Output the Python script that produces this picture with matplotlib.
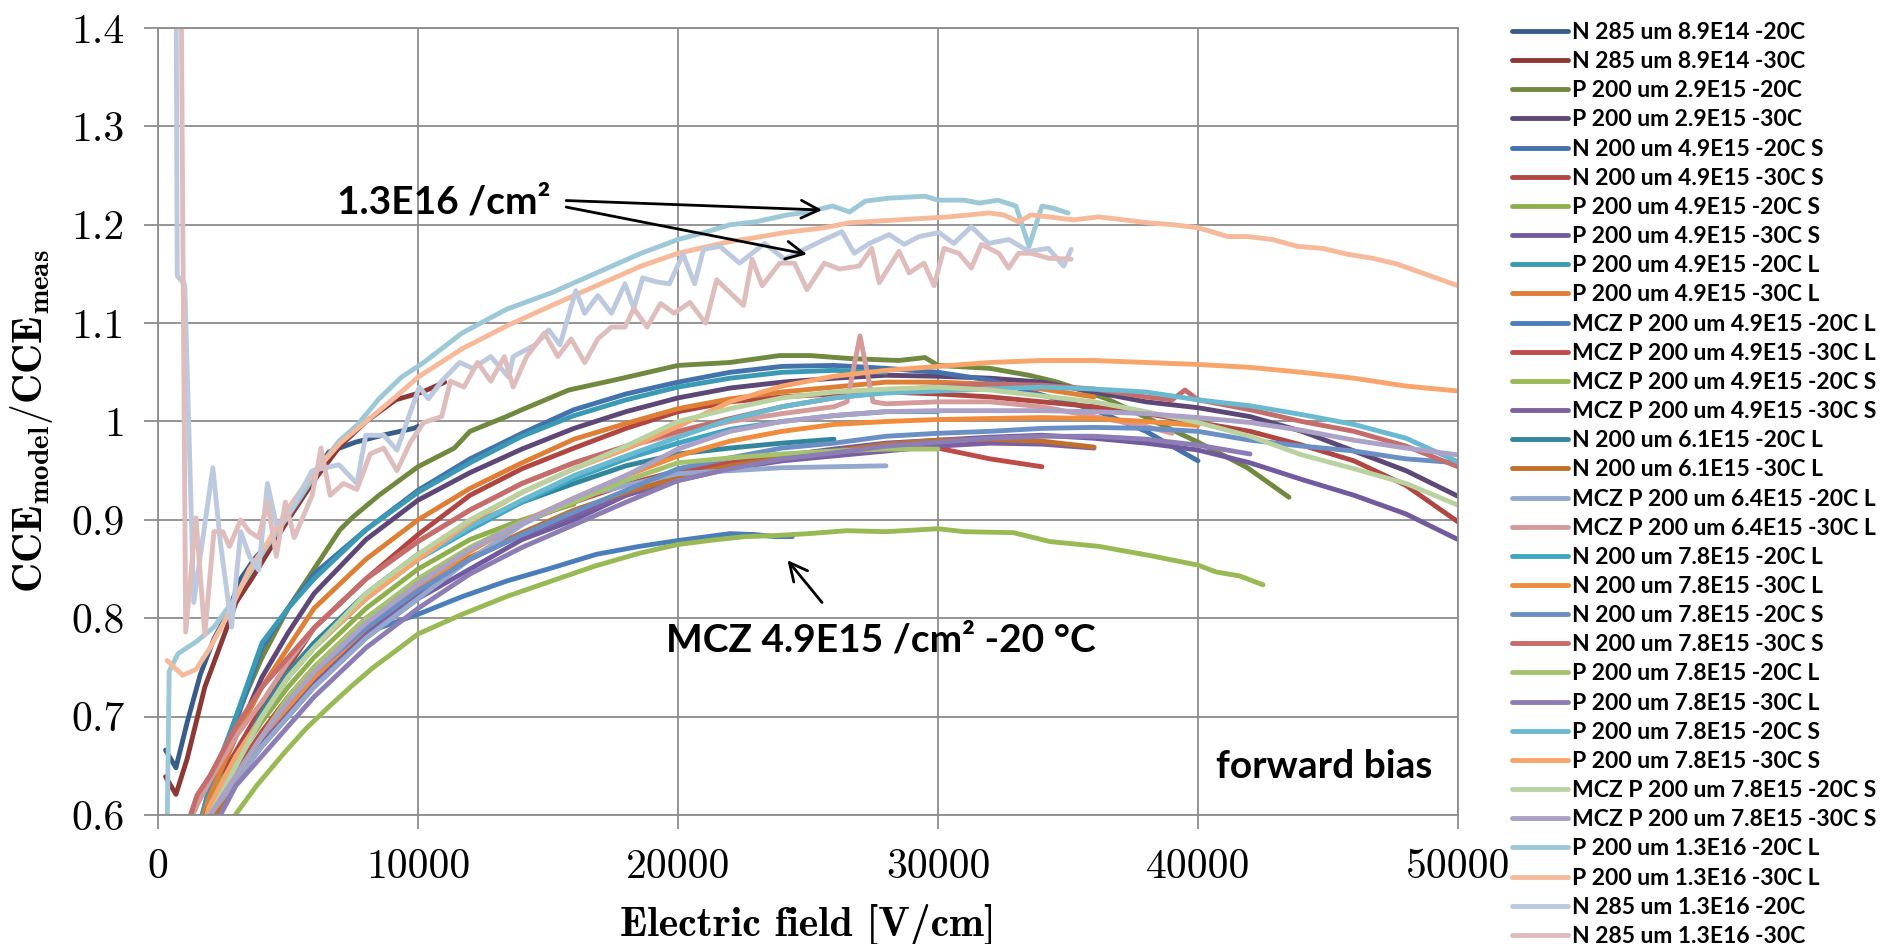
import matplotlib.pyplot as plt

plt.rcParams['mathtext.fontset'] = 'cm'

# legend labels and excel-like colours, in plotting order
labels = ['N 285 um 8.9E14 -20C', 'N 285 um 8.9E14 -30C',
          'P 200 um 2.9E15 -20C', 'P 200 um 2.9E15 -30C',
          'N 200 um 4.9E15 -20C S', 'N 200 um 4.9E15 -30C S',
          'P 200 um 4.9E15 -20C S', 'P 200 um 4.9E15 -30C S',
          'P 200 um 4.9E15 -20C L', 'P 200 um 4.9E15 -30C L',
          'MCZ P 200 um 4.9E15 -20C L', 'MCZ P 200 um 4.9E15 -30C L',
          'MCZ P 200 um 4.9E15 -20C S', 'MCZ P 200 um 4.9E15 -30C S',
          'N 200 um 6.1E15 -20C L', 'N 200 um 6.1E15 -30C L',
          'MCZ P 200 um 6.4E15 -20C L', 'MCZ P 200 um 6.4E15 -30C L',
          'N 200 um 7.8E15 -20C L', 'N 200 um 7.8E15 -30C L',
          'N 200 um 7.8E15 -20C S', 'N 200 um 7.8E15 -30C S',
          'P 200 um 7.8E15 -20C L', 'P 200 um 7.8E15 -30C L',
          'P 200 um 7.8E15 -20C S', 'P 200 um 7.8E15 -30C S',
          'MCZ P 200 um 7.8E15 -20C S', 'MCZ P 200 um 7.8E15 -30C S',
          'P 200 um 1.3E16 -20C L', 'P 200 um 1.3E16 -30C L',
          'N 285 um 1.3E16 -20C', 'N 285 um 1.3E16 -30C']

colors = ['#385D8A', '#8C3836', '#71893F', '#5C4776', '#4372AC', '#B04541',
          '#8DB04C', '#725A9E', '#3A9AB3', '#DF7F35', '#4A7EBB', '#BE4B48',
          '#98B954', '#7D60A0', '#31859C', '#C0702B', '#95A9CE', '#D59B9A',
          '#3FA6C2', '#F08C3C', '#6A8FC5', '#C66C6A', '#A5C26D', '#8C7DB4',
          '#69BAD0', '#F8A46A', '#BAD2A0', '#ACA1C6', '#9DC8D8', '#F6BA9A',
          '#BCC9DF', '#DFBDBD']

# common field grid (V/cm) used by the smoother curves
field_grid = [1500, 2000, 3000, 4000, 5000, 6000, 8000, 10000, 12000, 14000,
              16000, 18000, 20000, 22000, 24000, 26000, 28000, 30000, 32000,
              34000, 36000, 38000, 40000, 42000, 44000, 46000, 48000, 50000]

s00_x = [290, 690, 1120, 1630, 2150, 2660, 3180, 3700, 4200, 4900, 5500, 6570, 7600, 8630, 9830, 10000]
s00_y = [0.666, 0.648, 0.694, 0.743, 0.779, 0.804, 0.84, 0.86, 0.875, 0.9, 0.925, 0.969, 0.979, 0.986, 0.993, 0.995]

s01_x = [290, 690, 1120, 1800, 2490, 3000, 3600, 4300, 5000, 6000, 7000, 8000, 9140, 10170, 11030]
s01_y = [0.639, 0.621, 0.657, 0.73, 0.779, 0.816, 0.84, 0.87, 0.9, 0.94, 0.975, 1.0, 1.022, 1.03, 1.04]

s02_x = [1700, 2200, 2600, 3000, 3500, 4000, 4500, 5000, 5500, 6000, 6500, 7000, 7500, 8500, 10000,
         11400, 12000, 13400, 14000, 15800, 17700, 20000, 22000, 23900, 25100, 26600, 28500, 29500,
         30000, 32000, 33500, 34600, 36500, 38100, 40000, 41900, 43500]
s02_y = [0.58, 0.63, 0.665, 0.7, 0.73, 0.76, 0.785, 0.81, 0.83, 0.85, 0.87, 0.89, 0.903, 0.925, 0.954,
         0.973, 0.99, 1.005, 1.012, 1.032, 1.043, 1.057, 1.06, 1.067, 1.067, 1.064, 1.062, 1.065,
         1.057, 1.054, 1.047, 1.04, 1.023, 1.003, 0.979, 0.953, 0.923]

s03_y = [0.58, 0.62, 0.68, 0.74, 0.785, 0.825, 0.88, 0.92, 0.948, 0.972, 0.993, 1.01, 1.024, 1.034,
         1.04, 1.044, 1.047, 1.046, 1.044, 1.04, 1.03, 1.02, 1.014, 1.005, 0.99, 0.97, 0.95, 0.924]
s04_y = [0.58, 0.63, 0.695, 0.77, 0.81, 0.845, 0.89, 0.93, 0.962, 0.988, 1.012, 1.028, 1.04, 1.05,
         1.056, 1.057, 1.054, 1.05, 1.042, 1.027, 1.012, 0.99, 0.96]
s05_y = [0.58, 0.62, 0.665, 0.71, 0.75, 0.79, 0.84, 0.885, 0.925, 0.952, 0.973, 0.993, 1.01, 1.02,
         1.025, 1.028, 1.03, 1.028, 1.025, 1.02, 1.015, 1.008, 0.999, 0.99, 0.976, 0.96, 0.935, 0.898]
s06_y = [0.58, 0.62, 0.655, 0.695, 0.73, 0.76, 0.81, 0.85, 0.88, 0.9, 0.916]
s07_y = [0.57, 0.6, 0.635, 0.67, 0.7, 0.73, 0.78, 0.82, 0.85, 0.88, 0.9, 0.925, 0.945, 0.955,
         0.965, 0.972, 0.978, 0.981, 0.984, 0.986, 0.983, 0.978, 0.971, 0.958, 0.941, 0.925, 0.906, 0.88]
s08_y = [0.58, 0.63, 0.7, 0.775, 0.81, 0.84, 0.89, 0.928, 0.958, 0.985, 1.006, 1.022, 1.035, 1.044,
         1.05, 1.052, 1.05]
s09_y = [0.58, 0.62, 0.68, 0.73, 0.77, 0.81, 0.86, 0.9, 0.932, 0.958, 0.982, 0.998, 1.013, 1.023,
         1.03, 1.035, 1.04, 1.04, 1.038, 1.033, 1.025]

s10_x = [1900, 2300, 3000, 4000, 4850, 5500, 6570, 7500, 8280, 10000, 11700, 13430, 15000, 16860,
         18500, 20000, 22000, 23000, 23700, 24400]
s10_y = [0.58, 0.6, 0.64, 0.68, 0.703, 0.725, 0.754, 0.772, 0.788, 0.804, 0.822, 0.838, 0.85, 0.865,
         0.873, 0.879, 0.886, 0.885, 0.883, 0.883]

s11_y = [0.58, 0.61, 0.645, 0.685, 0.72, 0.75, 0.8, 0.838, 0.87, 0.897, 0.918, 0.936, 0.95, 0.958,
         0.965, 0.969, 0.972, 0.973, 0.962, 0.954]

s12_x = [2500, 2970, 3800, 4850, 5700, 6570, 7400, 8280, 9100, 10000, 11700, 13400, 15150, 16800,
         18500, 20000, 21500, 22600, 23700, 25000, 26500, 28000, 30000, 31000, 32900, 34300, 36200,
         38100, 40000, 40700, 41600, 42500]
s12_y = [0.58, 0.6, 0.63, 0.663, 0.688, 0.71, 0.73, 0.75, 0.766, 0.784, 0.804, 0.822, 0.838, 0.853,
         0.866, 0.875, 0.88, 0.883, 0.884, 0.886, 0.889, 0.888, 0.891, 0.888, 0.887, 0.878, 0.873,
         0.864, 0.854, 0.847, 0.843, 0.834]

s13_y = [0.57, 0.6, 0.64, 0.675, 0.705, 0.735, 0.785, 0.825, 0.86, 0.885, 0.905, 0.925, 0.94, 0.952,
         0.96, 0.965, 0.97, 0.975, 0.978, 0.977, 0.973]
s14_y = [0.56, 0.585, 0.655, 0.705, 0.745, 0.775, 0.825, 0.865, 0.895, 0.918, 0.937, 0.955, 0.967,
         0.973, 0.978, 0.982]
s15_y = [0.56, 0.59, 0.64, 0.68, 0.71, 0.74, 0.79, 0.83, 0.862, 0.887, 0.91, 0.928, 0.943, 0.955,
         0.963, 0.97, 0.977, 0.981, 0.982, 0.98, 0.974]
s16_y = [0.57, 0.6, 0.635, 0.67, 0.7, 0.73, 0.78, 0.82, 0.86, 0.895, 0.922, 0.935, 0.947, 0.95,
         0.953, 0.954, 0.955]

s17_x = [1000, 1500, 2000, 3000, 4000, 5000, 6000, 8000, 10000, 12000, 14000, 16000, 18000, 20000,
         22000, 24000, 26000, 26500, 27000, 27500, 28000, 30000, 32000, 34000, 36000, 38000, 39000]
s17_y = [0.58, 0.61, 0.635, 0.68, 0.715, 0.755, 0.79, 0.84, 0.878, 0.91, 0.937, 0.958, 0.974, 0.988,
         1.0, 1.008, 1.015, 1.02, 1.087, 1.02, 1.018, 1.02, 1.02, 1.015, 1.005, 0.995, 0.988]

s18_y = [0.57, 0.61, 0.66, 0.7, 0.74, 0.77, 0.82, 0.86, 0.89, 0.918, 0.942, 0.962, 0.978, 0.992,
         1.0, 1.006, 1.01, 1.01]
s19_y = [0.57, 0.6, 0.64, 0.68, 0.71, 0.74, 0.79, 0.83, 0.868, 0.898, 0.922, 0.945, 0.965, 0.98,
         0.99, 0.997, 1.0, 1.002, 1.003, 1.004, 1.003, 1.0, 0.996]
s20_y = [0.57, 0.6, 0.64, 0.68, 0.715, 0.745, 0.79, 0.828, 0.86, 0.885, 0.908, 0.93, 0.952, 0.963,
         0.973, 0.978, 0.985, 0.988, 0.99, 0.993, 0.994, 0.993, 0.99, 0.981, 0.975, 0.97, 0.962, 0.958]

s21_x = [1000, 1500, 2000, 3000, 4000, 5000, 6000, 8000, 10000, 12000, 14000, 16000, 18000, 20000,
         22000, 24000, 26000, 28000, 30000, 32000, 34000, 36000, 38000, 39000, 39500, 40000, 42000,
         44000, 46000, 48000, 50000]
s21_y = [0.58, 0.62, 0.64, 0.69, 0.73, 0.76, 0.79, 0.84, 0.878, 0.91, 0.937, 0.958, 0.975, 0.99,
         1.003, 1.015, 1.024, 1.03, 1.036, 1.038, 1.037, 1.033, 1.025, 1.022, 1.032, 1.022, 1.012,
         1.0, 0.99, 0.975, 0.954]

s22_y = [0.57, 0.6, 0.64, 0.68, 0.72, 0.75, 0.8, 0.84, 0.872, 0.898, 0.918, 0.94, 0.958, 0.963,
         0.967, 0.97, 0.972, 0.972]
s23_y = [0.54, 0.58, 0.63, 0.66, 0.69, 0.72, 0.77, 0.81, 0.845, 0.872, 0.895, 0.918, 0.94, 0.952,
         0.962, 0.968, 0.975, 0.979, 0.983, 0.985, 0.985, 0.982, 0.976, 0.967]
s24_y = [0.57, 0.61, 0.65, 0.7, 0.74, 0.77, 0.82, 0.86, 0.893, 0.92, 0.945, 0.965, 0.984, 1.002,
         1.015, 1.024, 1.029, 1.031, 1.033, 1.035, 1.033, 1.03, 1.022, 1.016, 1.007, 0.997, 0.983, 0.959]
s25_y = [0.57, 0.61, 0.66, 0.7, 0.74, 0.77, 0.82, 0.86, 0.898, 0.928, 0.952, 0.972, 0.995, 1.02,
         1.036, 1.046, 1.052, 1.056, 1.06, 1.062, 1.062, 1.06, 1.058, 1.055, 1.05, 1.044, 1.036, 1.031]
s26_y = [0.57, 0.6, 0.65, 0.7, 0.74, 0.77, 0.825, 0.865, 0.9, 0.928, 0.952, 0.975, 1.0, 1.013,
         1.024, 1.03, 1.033, 1.035, 1.032, 1.026, 1.02, 1.01, 0.999, 0.985, 0.966, 0.952, 0.937, 0.915]
s27_y = [0.56, 0.6, 0.64, 0.68, 0.715, 0.745, 0.795, 0.835, 0.87, 0.897, 0.922, 0.945, 0.972, 0.99,
         1.0, 1.006, 1.01, 1.011, 1.011, 1.011, 1.01, 1.008, 1.004, 0.999, 0.991, 0.981, 0.973, 0.966]

s28_x = [350, 430, 770, 1460, 2150, 2840, 3520, 4210, 4900, 5580, 6270, 6960, 7650, 8500, 9360,
         10220, 11700, 13400, 15150, 16860, 18580, 20000, 21000, 22000, 23000, 24200, 25000, 25950,
         26600, 27200, 28100, 29500, 30000, 31000, 31600, 32300, 33000, 33500, 34000, 34400, 35000]
s28_y = [0.58, 0.746, 0.764, 0.776, 0.791, 0.816, 0.846, 0.874, 0.9, 0.927, 0.956, 0.98, 0.996,
         1.023, 1.045, 1.06, 1.09, 1.114, 1.131, 1.151, 1.171, 1.185, 1.192, 1.2, 1.203, 1.21,
         1.213, 1.219, 1.213, 1.224, 1.227, 1.229, 1.225, 1.225, 1.222, 1.225, 1.219, 1.178,
         1.219, 1.217, 1.212]

s29_x = [350, 950, 1460, 1980, 2660, 3520, 4210, 5070, 5930, 7000, 8000, 9140, 10000, 11700, 13400,
         15150, 16860, 18580, 20000, 22000, 22760, 24100, 25630, 26590, 28500, 30420, 31950, 32530,
         33100, 33580, 34250, 35210, 36170, 37130, 38090, 39040, 40000, 41150, 41910, 42870, 43830,
         44790, 45750, 46700, 47660, 48620, 50000]
s29_y = [0.757, 0.742, 0.748, 0.769, 0.802, 0.85, 0.877, 0.914, 0.946, 0.978, 1.0, 1.025, 1.045,
         1.074, 1.097, 1.118, 1.138, 1.158, 1.171, 1.183, 1.186, 1.192, 1.197, 1.202, 1.205, 1.208,
         1.212, 1.21, 1.203, 1.21, 1.208, 1.205, 1.208, 1.205, 1.202, 1.2, 1.197, 1.188, 1.188,
         1.185, 1.178, 1.176, 1.17, 1.166, 1.16, 1.151, 1.138]

s30_x = [640, 700, 740, 1030, 1375, 2110, 2400, 2830, 3180, 3520, 3870, 4210, 4550, 4900, 5930,
         6960, 7650, 7990, 8680, 9190, 10050, 10400, 10910, 11600, 12110, 12800, 13490, 13660,
         14520, 15030, 15460, 16070, 16410, 16920, 17440, 17960, 18300, 18640, 19160, 19670,
         20190, 20640, 20980, 21610, 22370, 23330, 24100, 24860, 25630, 26300, 26780, 27360,
         28120, 28700, 29270, 30040, 30610, 31280, 31950, 32720, 33490, 34250, 34830, 35120]
s30_y = [1.48, 1.42, 1.148, 1.139, 0.816, 0.953, 0.877, 0.791, 0.888, 0.863, 0.849, 0.937, 0.895,
         0.9, 0.95, 0.956, 0.937, 0.986, 0.986, 0.971, 1.035, 1.023, 1.041, 1.06, 1.054, 1.066,
         1.045, 1.066, 1.078, 1.093, 1.078, 1.133, 1.11, 1.128, 1.11, 1.14, 1.115, 1.146, 1.142,
         1.14, 1.17, 1.14, 1.175, 1.178, 1.161, 1.181, 1.165, 1.175, 1.185, 1.193, 1.171, 1.181,
         1.19, 1.18, 1.188, 1.192, 1.181, 1.198, 1.181, 1.185, 1.173, 1.176, 1.158, 1.175]

s31_x = [880, 1065, 1460, 1800, 2150, 2490, 2750, 3180, 3520, 3870, 4210, 4550, 4900, 5240, 5930,
         6270, 6620, 7130, 7650, 8160, 8680, 9190, 9710, 10220, 10910, 11250, 11770, 12290, 12800,
         13320, 13660, 14180, 14860, 15380, 15890, 16410, 16920, 17440, 17960, 18300, 18810, 19330,
         19850, 20460, 21060, 21490, 22000, 22520, 22850, 23240, 23910, 24480, 24960, 25630, 26210,
         26970, 27450, 27740, 28500, 28890, 29460, 29850, 30230, 30800, 31280, 31670, 32340, 32720,
         33100, 33580, 34250, 35120]
s31_y = [1.48, 0.786, 0.902, 0.783, 0.888, 0.888, 0.873, 0.9, 0.888, 0.882, 0.918, 0.863, 0.918,
         0.882, 0.925, 0.973, 0.925, 0.937, 0.931, 0.967, 0.973, 0.95, 0.979, 0.999, 1.005, 1.041,
         1.035, 1.06, 1.041, 1.066, 1.035, 1.066, 1.09, 1.066, 1.084, 1.06, 1.084, 1.096, 1.096,
         1.115, 1.096, 1.12, 1.11, 1.121, 1.1, 1.144, 1.131, 1.118, 1.165, 1.138, 1.161, 1.161,
         1.134, 1.161, 1.155, 1.158, 1.176, 1.141, 1.173, 1.151, 1.161, 1.138, 1.176, 1.171, 1.156,
         1.18, 1.171, 1.156, 1.171, 1.171, 1.166, 1.165]

x_ticks = [0, 10000, 20000, 30000, 40000, 50000]
y_ticks = [0.6, 0.7, 0.8, 0.9, 1.0, 1.1, 1.2, 1.3, 1.4]
y_tick_labels = ['0.6', '0.7', '0.8', '0.9', '1', '1.1', '1.2', '1.3', '1.4']


def on_grid(y):
    return field_grid[:len(y)], y


series = [(s00_x, s00_y), (s01_x, s01_y), (s02_x, s02_y), on_grid(s03_y),
          on_grid(s04_y), on_grid(s05_y), on_grid(s06_y), on_grid(s07_y),
          on_grid(s08_y), on_grid(s09_y), (s10_x, s10_y), on_grid(s11_y),
          (s12_x, s12_y), on_grid(s13_y), on_grid(s14_y), on_grid(s15_y),
          on_grid(s16_y), (s17_x, s17_y), on_grid(s18_y), on_grid(s19_y),
          on_grid(s20_y), (s21_x, s21_y), on_grid(s22_y), on_grid(s23_y),
          on_grid(s24_y), on_grid(s25_y), on_grid(s26_y), on_grid(s27_y),
          (s28_x, s28_y), (s29_x, s29_y), (s30_x, s30_y), (s31_x, s31_y)]

fig = plt.figure(figsize=(18.89, 9.44), dpi=100)
ax = fig.add_axes([158 / 1889, 129 / 944, 1300 / 1889, 787 / 944])

for (xs, ys), lab, col in zip(series, labels, colors):
    ax.plot(xs, ys, color=col, lw=3.5, label=lab,
            solid_joinstyle='round', solid_capstyle='round')

grid_col = '#8c8c8c'
ax.set_xlim(0, 50000)
ax.set_ylim(0.6, 1.4)
ax.set_xticks(x_ticks)
ax.set_xticklabels([str(t) for t in x_ticks], fontfamily='cmr10', fontsize=30)
ax.set_yticks(y_ticks)
ax.set_yticklabels(y_tick_labels, fontfamily='cmr10', fontsize=30)
ax.grid(True, color=grid_col, lw=1.3)
ax.set_axisbelow(True)
for sp in ax.spines.values():
    sp.set_color(grid_col)
    sp.set_linewidth(1.3)
ax.tick_params(direction='out', length=10, width=1.3, color=grid_col, pad=14)

ax.set_xlabel('Electric field [V/cm]', fontfamily='cmb10', fontsize=30, labelpad=13)
ax.set_ylabel(r'$\mathbf{CCE_{model}/CCE_{meas}}$', fontsize=30, labelpad=12)

# annotations
note_font = dict(fontfamily='Lato', fontweight='bold', fontsize=28, va='baseline')
arrow = dict(arrowstyle='->', lw=2, color='black', mutation_scale=32, shrinkA=0, shrinkB=0)
ax.text(6900, 1.2114, '1.3E16 /cm²', **note_font)
ax.annotate('', xy=(25540, 1.215), xytext=(15700, 1.2246), arrowprops=arrow)
ax.annotate('', xy=(24960, 1.170), xytext=(15700, 1.218), arrowprops=arrow)
ax.text(19540, 0.766, 'MCZ 4.9E15 /cm² -20 °C', **note_font)
ax.annotate('', xy=(24210, 0.859), xytext=(25540, 0.816), arrowprops=arrow)
ax.text(40700, 0.6376, 'forward bias', **note_font)

fig.legend(loc='upper left', bbox_to_anchor=(1512 / 1889, 1 - 22 / 944),
           frameon=False, borderpad=0, borderaxespad=0,
           prop=dict(family='Lato', weight='bold', size=16.5),
           handlelength=2.45, handletextpad=0.18, labelspacing=0.356)

fig.savefig('out.png', dpi=100)
